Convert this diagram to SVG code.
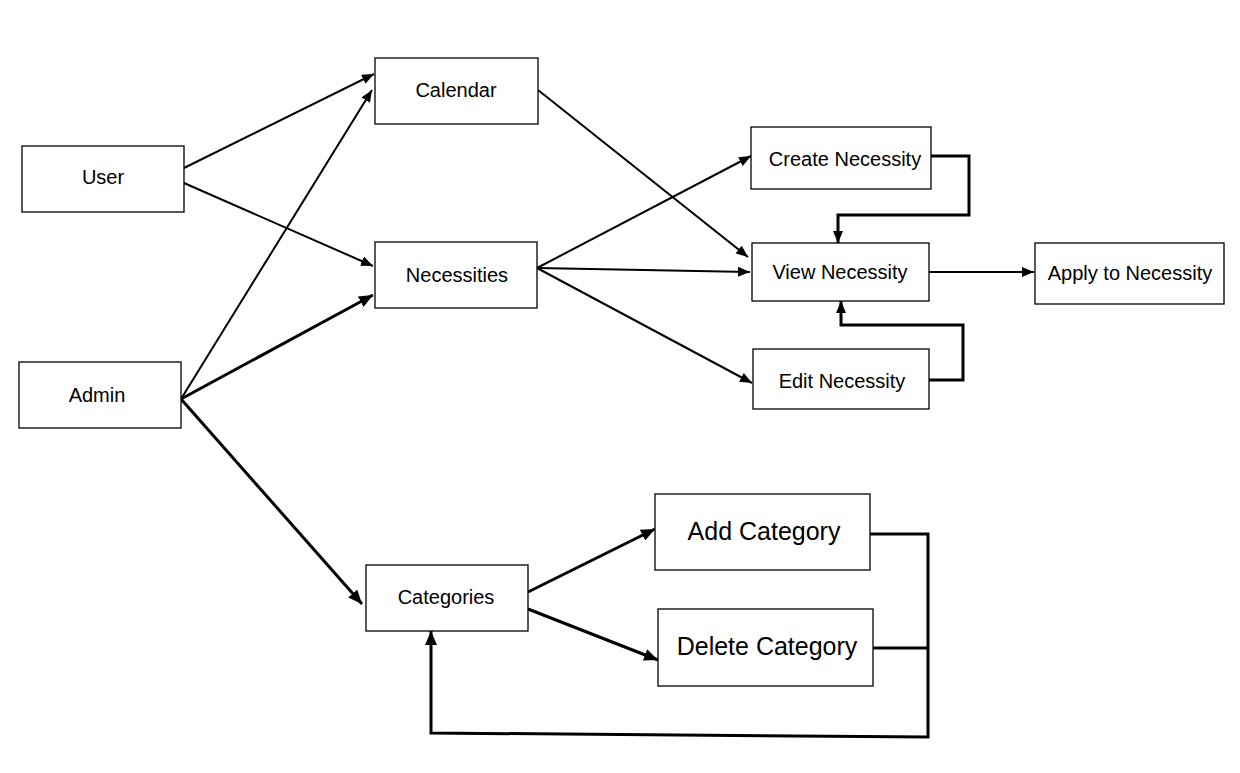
<svg xmlns="http://www.w3.org/2000/svg" width="1240" height="773" viewBox="0 0 1240 773">
<style>
.box{fill:#fff;stroke:#000;stroke-width:1.3}
.t{font-family:"Liberation Sans",Arial,sans-serif;font-size:20px;text-anchor:middle;fill:#000}
.tb{font-family:"Liberation Sans",Arial,sans-serif;font-size:25px;text-anchor:middle;fill:#000}
.c{fill:none;stroke:#000;stroke-width:2}
.ck{fill:none;stroke:#000;stroke-width:3}
</style>
<defs>
<marker id="a" viewBox="0 0 12 10" refX="12" refY="5" markerWidth="12" markerHeight="10" markerUnits="userSpaceOnUse" orient="auto">
<path d="M0,0 L12,5 L0,10 Z" fill="#000"/>
</marker>
<marker id="ak" viewBox="0 0 14 12" refX="14" refY="6" markerWidth="14" markerHeight="12" markerUnits="userSpaceOnUse" orient="auto">
<path d="M0,0 L14,6 L0,12 Z" fill="#000"/>
</marker>
</defs>
<rect width="1240" height="773" fill="#fff"/>
<g id="connectors">
<line class="c" x1="184" y1="168" x2="374" y2="74" marker-end="url(#a)"/>
<line class="c" x1="184" y1="183" x2="373" y2="266" marker-end="url(#a)"/>
<line class="c" x1="181" y1="399" x2="372" y2="90" marker-end="url(#a)"/>
<line class="ck" x1="181" y1="399" x2="373" y2="295" marker-end="url(#ak)"/>
<line class="ck" x1="181" y1="399" x2="362" y2="604" marker-end="url(#ak)"/>
<line class="c" x1="538" y1="90" x2="748" y2="257" marker-end="url(#a)"/>
<line class="c" x1="537" y1="268" x2="751" y2="156" marker-end="url(#a)"/>
<line class="c" x1="537" y1="268" x2="750" y2="272" marker-end="url(#a)"/>
<line class="c" x1="537" y1="268" x2="752" y2="383" marker-end="url(#a)"/>
<polyline class="ck" points="931,156 969,156 969,215 838,215 838,243" marker-end="url(#a)"/>
<polyline class="ck" points="929,380 963,380 963,325 841,325 841,301" marker-end="url(#a)"/>
<line class="c" x1="929" y1="272" x2="1034" y2="272" marker-end="url(#a)"/>
<line class="ck" x1="528" y1="592" x2="655" y2="529" marker-end="url(#ak)"/>
<line class="ck" x1="528" y1="609" x2="658" y2="660" marker-end="url(#ak)"/>
<polyline class="ck" points="870,534 928,534 928,737 431,733 431,631" marker-end="url(#ak)"/>
<line class="ck" x1="873" y1="648" x2="928" y2="648"/>
</g>
<g id="calendar"><rect class="box" x="375" y="58" width="163" height="66"/><text class="t" x="456" y="97">Calendar</text></g>
<g id="user"><rect class="box" x="22" y="146" width="162" height="66"/><text class="t" x="103" y="184">User</text></g>
<g id="necessities"><rect class="box" x="375" y="242" width="162" height="66"/><text class="t" x="457" y="282">Necessities</text></g>
<g id="admin"><rect class="box" x="19" y="362" width="162" height="66"/><text class="t" x="97" y="402">Admin</text></g>
<g id="create-necessity"><rect class="box" x="751" y="127" width="180" height="62"/><text class="t" x="845" y="166">Create Necessity</text></g>
<g id="view-necessity"><rect class="box" x="752" y="243" width="177" height="58"/><text class="t" x="840" y="279">View Necessity</text></g>
<g id="apply-necessity"><rect class="box" x="1035" y="243" width="189" height="61"/><text class="t" x="1130" y="280">Apply to Necessity</text></g>
<g id="edit-necessity"><rect class="box" x="753" y="349" width="176" height="60"/><text class="t" x="842" y="388">Edit Necessity</text></g>
<g id="add-category"><rect class="box" x="655" y="494" width="215" height="76"/><text class="tb" x="764" y="540">Add Category</text></g>
<g id="delete-category"><rect class="box" x="658" y="609" width="215" height="77"/><text class="tb" x="767" y="655">Delete Category</text></g>
<g id="categories"><rect class="box" x="366" y="565" width="162" height="66"/><text class="t" x="446" y="604">Categories</text></g>
</svg>
